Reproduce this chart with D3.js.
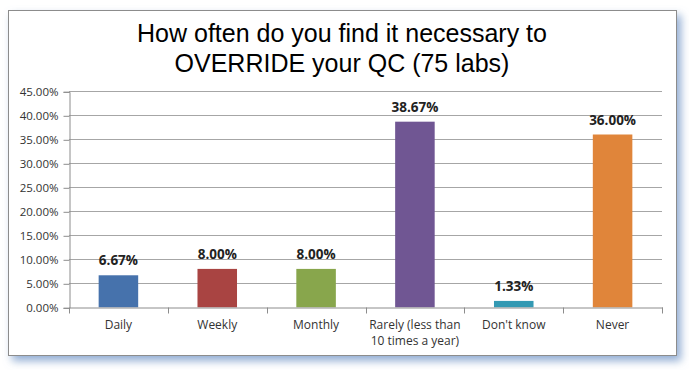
<!DOCTYPE html>
<html><head><meta charset="utf-8">
<script src="https://cdn.jsdelivr.net/npm/d3@7"></script>
<style>body{margin:0;background:#fff;}svg{display:block;}</style>
</head><body>
<svg id="c" width="689" height="370"></svg>
<script>
const categories = [["Daily"],["Weekly"],["Monthly"],["Rarely (less than","10 times a year)"],["Don't know"],["Never"]];
const values = [6.67, 8.00, 8.00, 38.67, 1.33, 36.00];
const colors = ["#4672AC","#A94442","#88A64C","#705693","#3399B3","#E0853A"];
const yTicks = [0,5,10,15,20,25,30,35,40,45];
const titleLines = ["How often do you find it necessary to","OVERRIDE your QC (75 labs)"];

(function(){
const svg = d3.select("#c");
const defs = svg.append("defs");
const f = defs.append("filter").attr("id","sh").attr("x","-5%").attr("y","-5%").attr("width","115%").attr("height","120%");
f.append("feDropShadow").attr("dx",4).attr("dy",5).attr("stdDeviation",4).attr("flood-color","#7f9fcc").attr("flood-opacity",0.85);

svg.append("rect").attr("x",8.5).attr("y",10.5).attr("width",668).attr("height",345)
  .attr("fill","#fff").attr("stroke","#8c8c8c").attr("stroke-width",1).attr("filter","url(#sh)");

const pL=69, pR=662, pT=91.3, pB=307.3;
const x = d3.scaleBand().domain(d3.range(categories.length)).range([pL,pR]).paddingInner(0.6).paddingOuter(0.3);
const xb = d3.scaleBand().domain(d3.range(categories.length)).range([pL,pR]);
const y = d3.scaleLinear().domain([0,45]).range([pB,pT]);

svg.append("g").selectAll("line").data(yTicks.filter(d=>d>0)).join("line")
  .attr("x1",pL).attr("x2",pR).attr("y1",d=>Math.round(y(d))+0.5).attr("y2",d=>Math.round(y(d))+0.5)
  .attr("stroke","#a6a6a6").attr("stroke-width",1);

const ya = svg.append("g").attr("transform",`translate(${pL+0.5},0.5)`)
  .call(d3.axisLeft(y).tickValues(yTicks).tickSize(6).tickPadding(5).tickFormat(d=>d.toFixed(2)+"%"));
ya.select(".domain").attr("stroke","#8c8c8c");
ya.selectAll(".tick line").attr("stroke","#8c8c8c");
ya.selectAll(".tick text").attr("font-family","'Open Sans', sans-serif").attr("font-size","11.5px").attr("fill","#333");

svg.append("g").selectAll("rect").data(values).join("rect")
  .attr("x",(d,i)=>x(i)).attr("width",x.bandwidth())
  .attr("y",d=>y(d)).attr("height",d=>pB-y(d))
  .attr("fill",(d,i)=>colors[i]);

const xa = svg.append("g").attr("transform",`translate(0.5,${Math.round(pB)+0.5})`)
  .call(d3.axisBottom(xb).tickValues([]).tickSizeOuter(0));
xa.select(".domain").attr("stroke","#8c8c8c");
svg.append("g").selectAll("line").data(d3.range(categories.length+1)).join("line")
  .attr("x1",i=>Math.round(pL+i*xb.step())+0.5).attr("x2",i=>Math.round(pL+i*xb.step())+0.5)
  .attr("y1",Math.round(pB)+0.5).attr("y2",Math.round(pB)+6.5).attr("stroke","#8c8c8c");

const cl = svg.append("g").selectAll("text").data(categories).join("text")
  .attr("x",(d,i)=>xb(i)+xb.bandwidth()/2).attr("y",329)
  .attr("text-anchor","middle").attr("font-family","'Open Sans', sans-serif").attr("font-size","12px").attr("fill","#333");
cl.each(function(d){
  const t=d3.select(this);
  d.forEach((s,j)=>t.append("tspan").attr("x",t.attr("x")).attr("dy",j?16:0).text(s));
});

svg.append("g").selectAll("text").data(values).join("text")
  .attr("x",(d,i)=>x(i)+x.bandwidth()/2).attr("y",d=>y(d)-10)
  .attr("text-anchor","middle").attr("font-family","'Open Sans', sans-serif").attr("font-weight","bold")
  .attr("font-size","13.5px").attr("fill","#222").text(d=>d.toFixed(2)+"%");

svg.append("g").selectAll("text").data(titleLines).join("text")
  .attr("x",342).attr("y",(d,i)=>42+i*30).attr("text-anchor","middle")
  .attr("font-family","'Liberation Sans', Arial, sans-serif").attr("font-size","25px").attr("fill","#000").text(d=>d);
})();
</script>
</body></html>
